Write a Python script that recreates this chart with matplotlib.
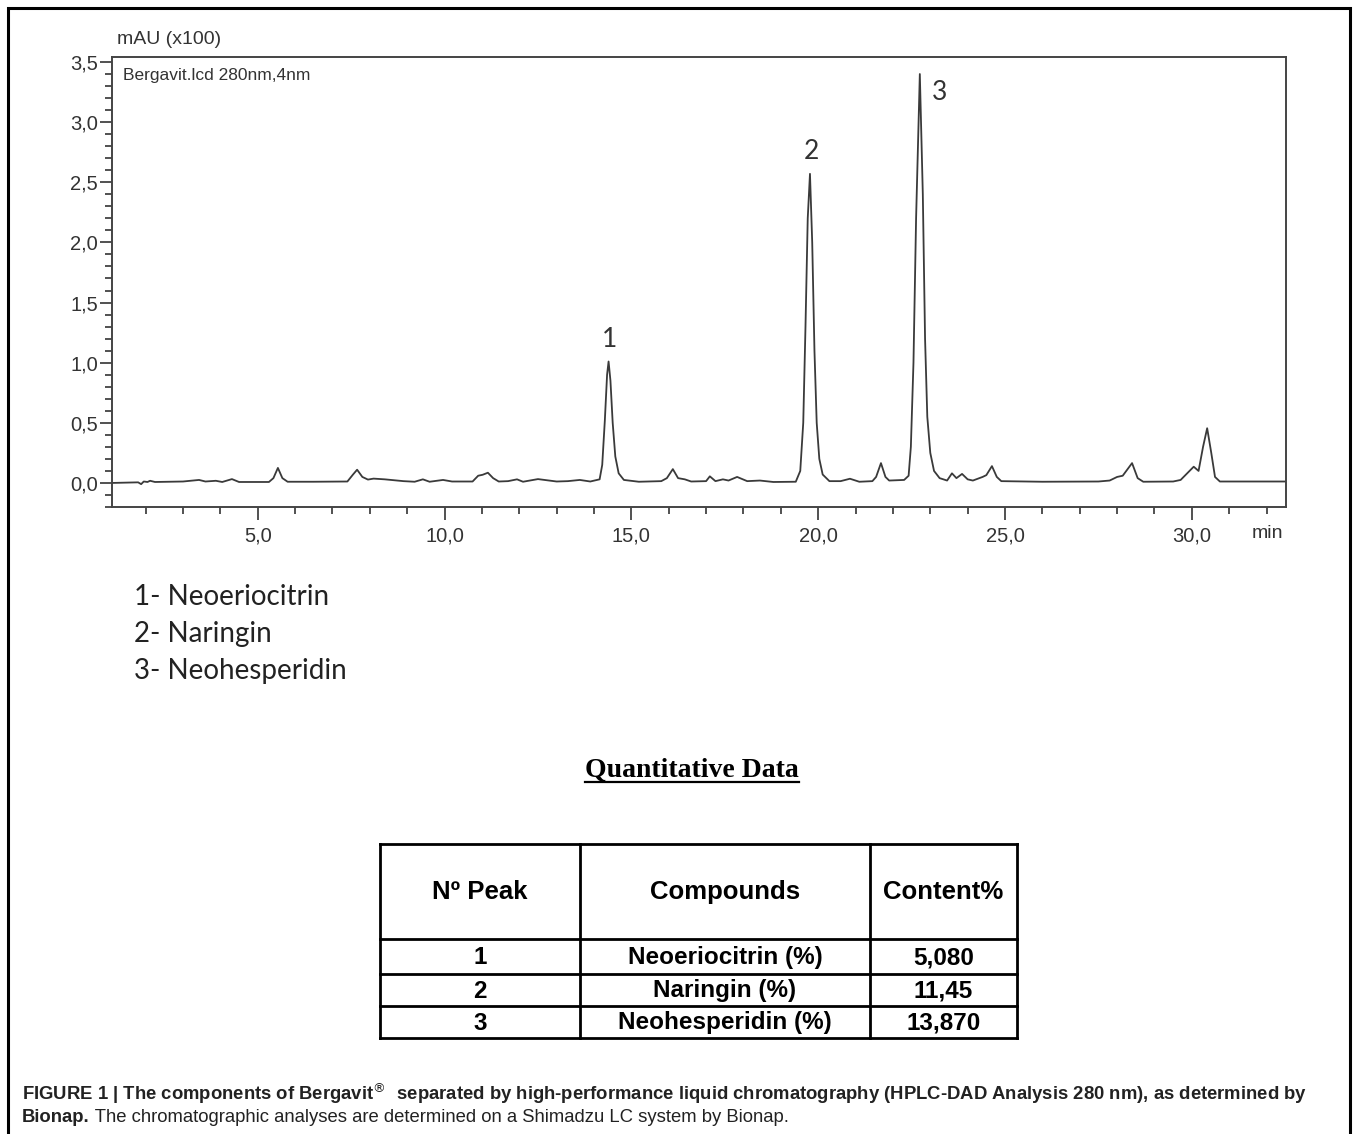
import matplotlib
matplotlib.use("Agg")
import matplotlib.pyplot as plt
from matplotlib import font_manager
from matplotlib.lines import Line2D

# chromatogram trace (time in min, signal in mAU x100)
time_min = [
    1.10, 1.80, 1.88, 1.95, 2.05, 2.12, 2.25, 3.00, 3.43, 3.60, 3.88, 4.05, 4.31, 4.50,
    5.30, 5.42, 5.54, 5.66, 5.80, 6.50, 7.40, 7.55, 7.66, 7.80, 7.95, 8.10, 8.40, 8.90,
    9.20, 9.42, 9.60, 9.96, 10.20, 10.75, 10.90, 11.02, 11.16, 11.30, 11.45, 11.70, 11.94,
    12.10, 12.50, 12.74, 13.00, 13.30, 13.62, 13.90,
    14.15, 14.22, 14.29, 14.35, 14.39, 14.44, 14.50, 14.57, 14.66, 14.80,
    15.20, 15.80, 15.95, 16.11, 16.25, 16.43, 16.60, 17.00, 17.10, 17.25, 17.45, 17.60,
    17.83, 18.10, 18.44, 18.80, 19.40,
    19.52, 19.60, 19.66, 19.72, 19.78, 19.84, 19.90, 19.96, 20.03, 20.12,
    20.30, 20.60, 20.85, 21.10, 21.45, 21.55, 21.68, 21.80, 21.90, 22.30,
    22.42, 22.48, 22.55, 22.62, 22.72, 22.80, 22.86, 22.92, 23.00, 23.10,
    23.25, 23.45, 23.58, 23.70, 23.85, 24.00, 24.14, 24.40, 24.50, 24.65, 24.78, 24.90,
    26.00, 27.50, 27.80, 28.00, 28.15, 28.40, 28.55, 28.70, 29.50, 29.70, 30.00, 30.05,
    30.18, 30.30, 30.41, 30.52, 30.62, 30.75, 32.52,
]
signal = [
    0.000, 0.005, -0.010, 0.012, 0.008, 0.018, 0.008, 0.012, 0.025, 0.012, 0.018, 0.008, 0.032, 0.008,
    0.008, 0.040, 0.125, 0.040, 0.010, 0.010, 0.012, 0.070, 0.110, 0.050, 0.028, 0.036, 0.030, 0.015,
    0.010, 0.030, 0.010, 0.025, 0.012, 0.012, 0.060, 0.068, 0.085, 0.040, 0.012, 0.015, 0.030,
    0.010, 0.032, 0.022, 0.012, 0.015, 0.025, 0.012,
    0.030, 0.150, 0.520, 0.900, 1.010, 0.850, 0.500, 0.220, 0.080, 0.025,
    0.010, 0.015, 0.040, 0.115, 0.040, 0.030, 0.012, 0.015, 0.055, 0.015, 0.030, 0.020,
    0.050, 0.015, 0.020, 0.008, 0.010,
    0.100, 0.500, 1.300, 2.200, 2.570, 2.000, 1.100, 0.500, 0.200, 0.070,
    0.015, 0.015, 0.035, 0.010, 0.015, 0.050, 0.165, 0.050, 0.020, 0.025,
    0.060, 0.300, 1.000, 2.200, 3.400, 2.400, 1.200, 0.550, 0.250, 0.100,
    0.040, 0.020, 0.080, 0.040, 0.075, 0.030, 0.020, 0.050, 0.065, 0.140, 0.050, 0.015,
    0.010, 0.012, 0.020, 0.050, 0.060, 0.165, 0.040, 0.010, 0.012, 0.025, 0.120, 0.135,
    0.100, 0.300, 0.455, 0.250, 0.050, 0.012, 0.012,
]

peak_numbers = ["1", "2", "3"]
peak_names = ["Neoeriocitrin", "Naringin", "Neohesperidin"]
peak_times = [14.39, 19.78, 22.72]
peak_heights = [1.01, 2.57, 3.40]

table_header = ["N\u00ba Peak", "Compounds", "Content%"]
table_compounds = ["Neoeriocitrin (%)", "Naringin (%)", "Neohesperidin (%)"]
table_content = ["5,080", "11,45", "13,870"]

y_ticks = [0.0, 0.5, 1.0, 1.5, 2.0, 2.5, 3.0, 3.5]
x_ticks = [5, 10, 15, 20, 25, 30]

installed = {f.name for f in font_manager.fontManager.ttflist}
narrow = "Liberation Sans Narrow" if "Liberation Sans Narrow" in installed else "Liberation Sans"
plt.rcParams["font.family"] = ["Liberation Sans", "DejaVu Sans"]

W, H = 1358, 1134
fig = plt.figure(figsize=(W / 100, H / 100), dpi=100)

# page overlay in pixel coordinates for border, legend text, table and caption
page = fig.add_axes([0, 0, 1, 1])
page.set_xlim(0, W)
page.set_ylim(H, 0)
page.axis("off")

page.plot([8, 8, 1350, 1350], [H + 10, 8, 8, H + 10], color="black", lw=2.2, solid_joinstyle="miter")

# chromatogram
ax = fig.add_axes([112 / W, 1 - 507 / H, (1286 - 112) / W, (507 - 57) / H])
ax.plot(time_min, signal, color="#3a3a3a", lw=1.3)
ax.set_xlim(1.1, 32.52)
ax.set_ylim(-0.2, 3.5416)
ax.set_yticks(y_ticks)
ax.set_yticklabels([f"{v:.1f}".replace(".", ",") for v in y_ticks])
ax.set_xticks(x_ticks)
ax.set_xticklabels([f"{v:.1f}".replace(".", ",") for v in x_ticks])
ax.set_yticks([i / 10 for i in range(-2, 36)], minor=True)
ax.set_xticks(list(range(2, 33)), minor=True)
ax.tick_params(axis="y", which="major", length=9, width=1.2, pad=1, labelsize=14.5, colors="#333333")
ax.tick_params(axis="y", which="minor", length=5, width=1.2, colors="#333333")
ax.tick_params(axis="x", which="major", length=9, width=1.2, pad=5, labelsize=14.5, colors="#333333")
ax.tick_params(axis="x", which="minor", length=5, width=1.2, colors="#333333")
for side in ax.spines.values():
    side.set_color("#444444")
    side.set_linewidth(1.4)

ax.text(0.009, 0.975, "Bergavit.lcd 280nm,4nm", transform=ax.transAxes, fontsize=12.5,
        color="#333333", ha="left", va="top")
for num, t, h in zip(peak_numbers, peak_times, peak_heights):
    if num == "3":
        ax.annotate(num, xy=(t, h), xytext=(9, -13), textcoords="offset points",
                    fontsize=19, family="Lato", color="#333333", ha="left", va="center")
    else:
        ax.annotate(num, xy=(t, h), xytext=(1, 16), textcoords="offset points",
                    fontsize=19, family="Lato", color="#333333", ha="center", va="center")

page.text(117, 40, "mAU (x100)", fontsize=14, color="#333333", ha="left", va="center")
page.text(1267, 534, "min", fontsize=14, color="#333333", ha="center", va="center")

# peak legend
for i, (num, name) in enumerate(zip(peak_numbers, peak_names)):
    page.text(134, 597 + 37 * i, f"{num}- {name}", fontsize=20, family="Lato",
              color="#222222", ha="left", va="center")

# quantitative data title with underline
title = page.text(692, 770, "Quantitative Data", fontsize=20, family="Liberation Serif",
                  weight="bold", color="black", ha="center", va="center")
fig.canvas.draw()
bb = title.get_window_extent().transformed(page.transData.inverted())
page.plot([bb.x0, bb.x1], [782, 782], color="black", lw=1.6)

# table grid
col_x = [380, 580, 870, 1017]
row_y = [844, 939, 974, 1006, 1038]
for y in row_y:
    page.add_line(Line2D([col_x[0], col_x[-1]], [y, y], color="black", lw=2.0))
for x in col_x:
    page.add_line(Line2D([x, x], [row_y[0], row_y[-1]], color="black", lw=2.0))

col_mid = [(a + b) / 2 for a, b in zip(col_x[:-1], col_x[1:])]
for x, label in zip(col_mid, table_header):
    page.text(x, 892, label, fontsize=18.5, family=narrow, weight="bold", ha="center", va="center")
for r, (num, comp, cont) in enumerate(zip(peak_numbers, table_compounds, table_content)):
    yc = (row_y[r + 1] + row_y[r + 2]) / 2 + 1
    for x, label in zip(col_mid, [num, comp, cont]):
        page.text(x, yc, label, fontsize=17.5, family=narrow, weight="bold", ha="center", va="center")

# caption
page.text(22, 1094,
          r"FIGURE 1 | The components of Bergavit$^{\circledR}$  separated by high-performance liquid "
          "chromatography (HPLC-DAD Analysis 280 nm), as determined by",
          fontsize=13.3, weight="bold", color="#222222", ha="left", va="center")
bold_part = page.text(22, 1117, "Bionap.", fontsize=13.3, weight="bold", color="#222222",
                      ha="left", va="center")
page.annotate(" The chromatographic analyses are determined on a Shimadzu LC system by Bionap.",
              xy=(1, 0), xycoords=bold_part, fontsize=13.3, color="#222222", ha="left", va="bottom")

fig.savefig("out.png", dpi=100)
